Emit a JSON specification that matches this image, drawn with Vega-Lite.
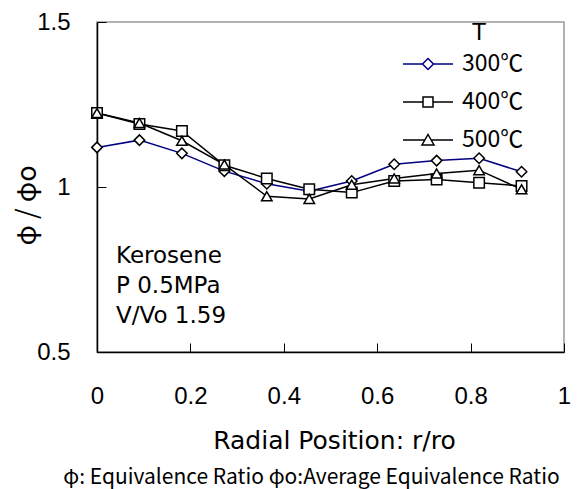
{
  "$schema": "https://vega.github.io/schema/vega-lite/v6.json",
  "width": 467,
  "height": 330,
  "autosize": {"type": "none"},
  "padding": {"left": 97, "top": 22, "right": 17, "bottom": 137},
  "background": "white",
  "config": {
    "font": "DejaVu Sans",
    "view": {"stroke": "#999999", "strokeWidth": 1.5},
    "axis": {"grid": false, "domainColor": "black", "tickColor": "black", "domainWidth": 1.5, "tickWidth": 1, "labelColor": "black", "titleColor": "black", "titleFontWeight": "normal"}
  },
  "title": {"text": "φ: Equivalence Ratio  φo:Average Equivalence Ratio", "orient": "bottom", "font": "Noto Sans CJK JP", "fontSize": 21, "fontWeight": "normal", "color": "black", "anchor": "middle", "dx": -19, "offset": 14},
  "data": {"values": [
    {"r": 0, "T": "300℃", "phi": 1.120},
    {"r": 0.0909, "T": "300℃", "phi": 1.142},
    {"r": 0.1818, "T": "300℃", "phi": 1.102},
    {"r": 0.2727, "T": "300℃", "phi": 1.048},
    {"r": 0.3636, "T": "300℃", "phi": 1.010},
    {"r": 0.4545, "T": "300℃", "phi": 0.987},
    {"r": 0.5455, "T": "300℃", "phi": 1.018},
    {"r": 0.6364, "T": "300℃", "phi": 1.069},
    {"r": 0.7273, "T": "300℃", "phi": 1.080},
    {"r": 0.8182, "T": "300℃", "phi": 1.087},
    {"r": 0.9091, "T": "300℃", "phi": 1.046},
    {"r": 0, "T": "400℃", "phi": 1.224},
    {"r": 0.0909, "T": "400℃", "phi": 1.191},
    {"r": 0.1818, "T": "400℃", "phi": 1.170},
    {"r": 0.2727, "T": "400℃", "phi": 1.066},
    {"r": 0.3636, "T": "400℃", "phi": 1.026},
    {"r": 0.4545, "T": "400℃", "phi": 0.993},
    {"r": 0.5455, "T": "400℃", "phi": 0.983},
    {"r": 0.6364, "T": "400℃", "phi": 1.018},
    {"r": 0.7273, "T": "400℃", "phi": 1.023},
    {"r": 0.8182, "T": "400℃", "phi": 1.013},
    {"r": 0.9091, "T": "400℃", "phi": 1.003},
    {"r": 0, "T": "500℃", "phi": 1.224},
    {"r": 0.0909, "T": "500℃", "phi": 1.194},
    {"r": 0.1818, "T": "500℃", "phi": 1.140},
    {"r": 0.2727, "T": "500℃", "phi": 1.068},
    {"r": 0.3636, "T": "500℃", "phi": 0.972},
    {"r": 0.4545, "T": "500℃", "phi": 0.964},
    {"r": 0.5455, "T": "500℃", "phi": 1.007},
    {"r": 0.6364, "T": "500℃", "phi": 1.026},
    {"r": 0.7273, "T": "500℃", "phi": 1.041},
    {"r": 0.8182, "T": "500℃", "phi": 1.051},
    {"r": 0.9091, "T": "500℃", "phi": 0.993}
  ]},
  "encoding": {
    "x": {"field": "r", "type": "quantitative", "scale": {"domain": [0, 1], "nice": false, "zero": false},
      "axis": {"values": [0, 0.2, 0.4, 0.6, 0.8, 1], "labelExpr": "'' + datum.value", "tickSize": -9, "labelFont": "Liberation Sans", "labelFontSize": 24, "labelPadding": 41, "title": "Radial Position: r/ro", "titleFont": "DejaVu Sans", "titleFontSize": 25, "titleX": 237, "titleY": 88, "titleBaseline": "middle", "labelFlush": false}},
    "y": {"field": "phi", "type": "quantitative", "scale": {"domain": [0.5, 1.5], "nice": false, "zero": false},
      "axis": {"values": [0.5, 1, 1.5], "labelExpr": "'' + datum.value", "tickSize": -9, "labelFont": "Liberation Sans", "labelFontSize": 24, "labelPadding": 36, "title": "φ / φo", "titleFont": "Noto Sans CJK JP", "titleFontSize": 27, "titleX": -70, "titleY": 183, "titleBaseline": "middle", "labelFlush": false}}
  },
  "layer": [
    {
      "mark": {"type": "line", "strokeWidth": 1.5},
      "encoding": {
        "stroke": {"field": "T", "type": "nominal", "title": "T", "scale": {"domain": ["300℃", "400℃", "500℃"], "range": ["#000080", "black", "black"]},
          "legend": {"title": "T", "orient": "none", "legendX": 305, "legendY": -1, "titleFont": "Liberation Sans", "titleFontSize": 24, "titleFontWeight": "normal", "titleColor": "black", "titleAnchor": "middle", "labelFont": "Noto Sans CJK JP", "labelFontSize": 23, "labelColor": "black", "symbolSize": 2500, "symbolStrokeWidth": 1.5, "labelOffset": 8, "rowPadding": -2, "titlePadding": -7,
            "encode": {
              "symbols": {"update": {
                "shape": {"signal": "datum.value === '300℃' ? 'M-1,0H-0.22M0.22,0H1M0,-0.22L0.22,0L0,0.22L-0.22,0Z' : datum.value === '400℃' ? 'M-1,0H-0.2M0.2,0H1M-0.2,-0.2H0.2V0.2H-0.2Z' : 'M-1,0H-0.13M0.13,0H1M0,-0.22L0.24,0.2H-0.24Z'"},
                "stroke": {"signal": "datum.value === '300℃' ? '#000080' : 'black'"},
                "fill": {"value": "white"},
                "strokeWidth": {"value": 1.5}
              }},
              "title": {"update": {"dx": {"value": 16}}}
            }}},
        "detail": {"field": "T"}
      }
    },
    {
      "transform": [{"filter": "datum.T === '300℃'"}],
      "mark": {"type": "point", "shape": "diamond", "filled": true, "fill": "white", "stroke": "black", "strokeWidth": 1.5, "opacity": 1, "size": 110}
    },
    {
      "transform": [{"filter": "datum.T === '400℃'"}],
      "mark": {"type": "point", "shape": "square", "filled": true, "fill": "white", "stroke": "black", "strokeWidth": 1.5, "opacity": 1, "size": 110}
    },
    {
      "transform": [{"filter": "datum.T === '500℃'"}],
      "mark": {"type": "point", "shape": "triangle-up", "filled": true, "fill": "white", "stroke": "black", "strokeWidth": 1.5, "opacity": 1, "size": 110}
    },
    {
      "transform": [{"filter": "datum.T === '300℃' && datum.r === 0"}],
      "mark": {"type": "text", "text": ["Kerosene", "P 0.5MPa", "V/Vo 1.59"], "lineHeight": 30, "align": "left", "baseline": "alphabetic", "fontSize": 23, "color": "black"},
      "encoding": {"x": {"datum": 0.0407}, "y": {"datum": 0.7697}}
    }
  ]
}
